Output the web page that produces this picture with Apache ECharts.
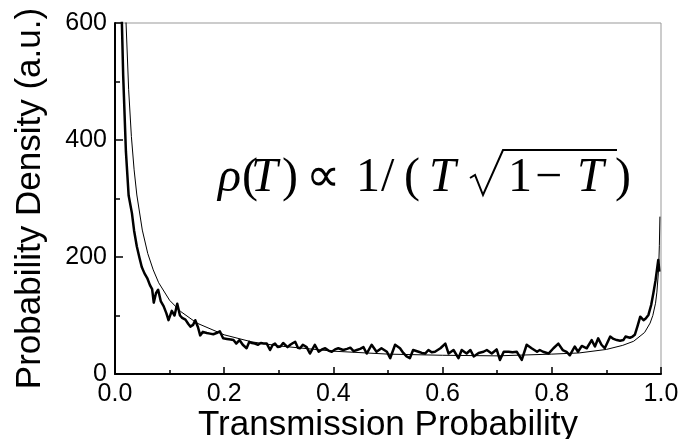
<!DOCTYPE html>
<html lang="en">
<head>
  <meta charset="UTF-8">
  <title>Transmission probability density</title>
  <style>
    html, body { margin: 0; padding: 0; background: #fff; }
    #chart { width: 679px; height: 439px; }
  </style>
  <script src="https://cdn.jsdelivr.net/npm/echarts@6/dist/echarts.min.js"></script>
</head>
<body>
<div id="chart"></div>
<script>
  // measured histogram (thick line)
  var measT = [0.010, 0.015, 0.020, 0.025, 0.031, 0.035, 0.040, 0.045, 0.049, 0.054,
    0.059, 0.064, 0.068, 0.071, 0.075, 0.079, 0.084, 0.089, 0.094, 0.098,
    0.104, 0.109, 0.114, 0.119, 0.123, 0.129, 0.134, 0.138, 0.143, 0.147,
    0.152, 0.156, 0.161, 0.168, 0.174, 0.180, 0.186, 0.192, 0.198, 0.205,
    0.212, 0.217, 0.222, 0.228, 0.234, 0.241, 0.246, 0.251, 0.256, 0.262,
    0.267, 0.272, 0.278, 0.284, 0.289, 0.293, 0.298, 0.303, 0.308, 0.311,
    0.316, 0.321, 0.326, 0.330, 0.335, 0.339, 0.344, 0.351, 0.357, 0.366,
    0.373, 0.379, 0.385, 0.391, 0.397, 0.403, 0.409, 0.418, 0.425, 0.431,
    0.437, 0.443, 0.449, 0.455, 0.461, 0.470, 0.479, 0.488, 0.498, 0.504,
    0.513, 0.522, 0.528, 0.534, 0.540, 0.546, 0.556, 0.562, 0.568, 0.574,
    0.580, 0.586, 0.596, 0.605, 0.611, 0.620, 0.629, 0.635, 0.644, 0.651,
    0.657, 0.666, 0.675, 0.681, 0.690, 0.699, 0.705, 0.712, 0.721, 0.728,
    0.736, 0.745, 0.754, 0.763, 0.773, 0.778, 0.784, 0.794, 0.803, 0.812,
    0.820, 0.827, 0.833, 0.842, 0.848, 0.855, 0.864, 0.873, 0.879, 0.885,
    0.891, 0.897, 0.907, 0.913, 0.919, 0.925, 0.931, 0.935, 0.943, 0.948,
    0.952, 0.957, 0.962, 0.968, 0.972, 0.977, 0.982, 0.986, 0.990, 0.995,
    0.997];
  var measRho = [700, 510, 380, 305, 275, 245, 218, 198, 183, 172,
    164, 152, 145, 122, 138, 144, 124, 116, 104, 92,
    108, 100, 120, 100, 96, 93, 86, 81, 84, 92,
    80, 66, 72, 70, 69, 68, 70, 73, 61, 60,
    59, 58, 52, 58, 50, 44, 55, 53, 52, 50,
    53, 52, 52, 41, 50, 52, 46, 47, 53, 55,
    46, 50, 53, 55, 45, 44, 50, 46, 35, 50,
    38, 42, 44, 40, 38, 42, 44, 41, 43, 45,
    39, 41, 43, 46, 35, 50, 38, 44, 38, 27,
    50, 44, 36, 30, 27, 41, 38, 36, 35, 41,
    37, 38, 44, 52, 35, 41, 27, 41, 35, 41,
    30, 36, 38, 41, 35, 42, 24, 38, 38, 37,
    38, 24, 50, 44, 38, 41, 38, 35, 44, 52,
    41, 38, 32, 47, 38, 48, 44, 58, 47, 61,
    50, 44, 64, 60, 58, 57, 58, 64, 62, 64,
    67, 82, 98, 92, 95, 101, 118, 138, 160, 195,
    175];

  // theory curve rho ~ 1/(T sqrt(1-T)) (thin line)
  var theoT = [0.010, 0.015, 0.020, 0.025, 0.030, 0.035, 0.040, 0.050, 0.060, 0.070,
    0.080, 0.100, 0.120, 0.150, 0.200, 0.250, 0.300, 0.400, 0.500, 0.600,
    0.700, 0.800, 0.850, 0.900, 0.930, 0.950, 0.970, 0.980, 0.985, 0.990,
    0.9925, 0.995, 0.996, 0.997, 0.998];
  var theoRho = [1206, 806, 606, 486, 406, 349, 306, 246, 206, 178,
    156, 126, 107, 87, 67, 55, 48, 39, 34, 32,
    31, 34, 36, 42, 49, 56, 71, 87, 100, 121,
    140, 171, 190, 220, 269];

  var xTicks = ['0.0', '0.2', '0.4', '0.6', '0.8', '1.0'];

  function pairs(xs, ys) {
    return xs.map(function (x, i) { return [x, ys[i]]; });
  }

  // formula pieces: [text, x, italic]
  var formula = [
    ['ρ', 218, true], ['(', 242, false], ['T', 251, true], [')', 282, false],
    ['∝', 306, false], ['1', 356, false], ['/', 381, false], ['(', 404, false],
    ['T', 429, true], ['1', 508, false], ['−', 535, false], ['T', 577, true],
    [')', 615, false]
  ];

  var graphics = formula.map(function (p) {
    return {
      type: 'text', x: p[1], y: 178,
      style: {
        text: p[0], fill: '#000', verticalAlign: 'middle', align: 'left',
        font: (p[2] ? 'italic ' : '') + '48px "Liberation Serif"'
      }
    };
  });
  // square root sign
  graphics.push({
    type: 'polyline',
    shape: { points: [[470, 178], [475, 175], [483, 195], [503, 150], [617, 150]] },
    style: { stroke: '#000', lineWidth: 2, fill: null, lineJoin: 'miter' }
  });

  var chart = echarts.init(document.getElementById('chart'));

  var option = {
    animation: false,
    backgroundColor: '#fff',
    grid: {
      left: 115, right: 18, top: 23, bottom: 65,
      outerBoundsMode: 'none', containLabel: false,
      show: true, borderColor: '#999', borderWidth: 1
    },
    xAxis: {
      type: 'value', min: 0, max: 1, interval: 0.2,
      name: 'Transmission Probability',
      nameLocation: 'middle', nameGap: 34, nameMoveOverlap: false,
      nameTextStyle: { fontFamily: 'Liberation Sans', fontSize: 35, color: '#000' },
      axisLine: { show: true, onZero: false, lineStyle: { color: '#000', width: 2 } },
      axisTick: { show: true, inside: true, length: 7, lineStyle: { color: '#000', width: 1.5 } },
      minorTick: { show: true, splitNumber: 2, length: 4, lineStyle: { color: '#000', width: 1.5 } },
      splitLine: { show: false },
      axisLabel: {
        fontFamily: 'Liberation Sans', fontSize: 25, color: '#000', margin: 8,
        formatter: function (v) { return xTicks[Math.round(v / 0.2)]; }
      }
    },
    yAxis: {
      type: 'value', min: 0, max: 600, interval: 200,
      name: 'Probability Density (a.u.)',
      nameLocation: 'middle', nameGap: 67, nameMoveOverlap: false,
      nameTextStyle: { fontFamily: 'Liberation Sans', fontSize: 35, color: '#000' },
      axisLine: { show: true, lineStyle: { color: '#000', width: 2 } },
      axisTick: { show: true, inside: true, length: 8, lineStyle: { color: '#000', width: 1.5 } },
      minorTick: { show: true, splitNumber: 2, length: 5, lineStyle: { color: '#000', width: 1.5 } },
      splitLine: { show: false },
      axisLabel: { fontFamily: 'Liberation Sans', fontSize: 25, color: '#000', margin: 8 }
    },
    graphic: graphics,
    series: [
      {
        name: 'theory', type: 'line', showSymbol: false, clip: true,
        data: pairs(theoT, theoRho),
        lineStyle: { color: '#000', width: 1 }, z: 2
      },
      {
        name: 'measured', type: 'line', showSymbol: false, clip: true,
        data: pairs(measT, measRho),
        lineStyle: { color: '#000', width: 2.5, join: 'round' }, z: 3
      }
    ]
  };

  chart.setOption(option);
</script>
</body>
</html>
